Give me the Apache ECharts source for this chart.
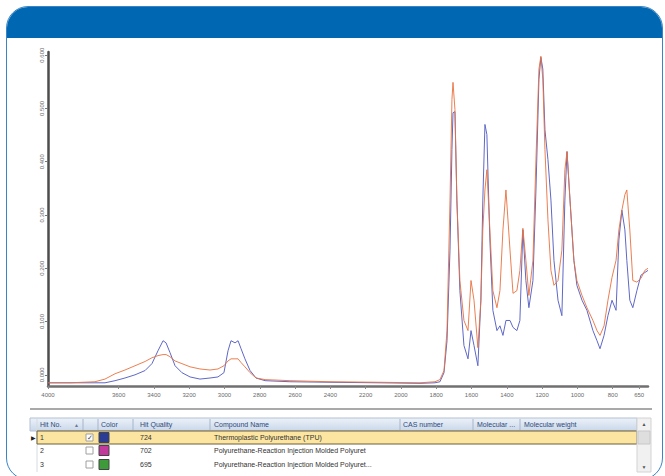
<!DOCTYPE html>
<html><head><meta charset="utf-8">
<script src="https://cdn.jsdelivr.net/npm/echarts@6/dist/echarts.min.js"></script>
<style>
html,body{margin:0;padding:0;background:#fff;width:665px;height:476px;overflow:hidden;}
#frame{position:absolute;left:6px;top:6px;width:657px;height:474px;border:1px solid #3a83c6;border-radius:22px;overflow:hidden;box-sizing:border-box;background:#fff}
#bar{position:absolute;left:0;top:0;right:0;height:31px;background:#0068b2}
#chart{position:absolute;left:0;top:0;width:665px;height:476px}
</style></head><body>
<div id="frame"><div id="bar"></div></div>
<div id="chart"></div>
<script>
// ---- data ----
const wavenumbers = [4000,3875,3734,3677,3620,3564,3507,3450,3411,3377,
  3348,3331,3309,3280,3241,3195,3139,3082,3037,3003,
  2980,2963,2940,2923,2906,2884,2855,2821,2770,2629,
  2402,2119,1892,1807,1779,1756,1739,1722,1711,1705,
  1694,1683,1666,1643,1620,1603,1586,1564,1547,1536,
  1524,1513,1496,1479,1456,1439,1422,1405,1382,1365,
  1343,1326,1309,1292,1275,1252,1235,1218,1207,1196,
  1184,1167,1150,1133,1110,1088,1071,1059,1042,1020,
  1003,974,946,912,889,872,849,827,804,781,
  765,748,731,720,703,686,663,640,618,600];
const sampleSpectrum = [-0.015,-0.015,-0.013,-0.008,0.002,0.009,0.017,0.025,0.032,0.036,
  0.038,0.038,0.034,0.026,0.021,0.015,0.011,0.009,0.011,0.017,
  0.026,0.030,0.030,0.030,0.023,0.015,0.004,-0.006,-0.009,-0.011,
  -0.013,-0.014,-0.015,-0.013,-0.009,0.008,0.083,0.328,0.517,0.549,
  0.498,0.328,0.177,0.102,0.083,0.177,0.140,0.051,0.140,0.272,
  0.347,0.385,0.272,0.158,0.126,0.158,0.272,0.347,0.234,0.153,
  0.158,0.196,0.275,0.215,0.149,0.215,0.404,0.574,0.598,0.555,
  0.423,0.291,0.196,0.168,0.177,0.234,0.385,0.419,0.328,0.215,
  0.177,0.149,0.126,0.102,0.083,0.074,0.092,0.140,0.183,0.215,
  0.272,0.309,0.338,0.347,0.272,0.177,0.174,0.181,0.196,0.200];
const hitSpectrum = [-0.015,-0.015,-0.015,-0.015,-0.011,-0.006,0,0.008,0.021,0.045,
  0.064,0.060,0.042,0.017,0.004,-0.004,-0.008,-0.006,-0.004,0.004,
  0.045,0.064,0.060,0.064,0.049,0.030,0.008,-0.006,-0.011,-0.013,
  -0.014,-0.015,-0.016,-0.015,-0.013,0.004,0.064,0.234,0.423,0.492,
  0.494,0.328,0.158,0.055,0.030,0.083,0.055,0.017,0.140,0.328,
  0.470,0.451,0.253,0.121,0.083,0.092,0.074,0.102,0.102,0.089,
  0.083,0.102,0.272,0.177,0.126,0.177,0.347,0.555,0.596,0.574,
  0.460,0.404,0.328,0.215,0.140,0.111,0.328,0.419,0.328,0.215,
  0.168,0.140,0.121,0.083,0.064,0.049,0.074,0.111,0.140,0.121,
  0.253,0.309,0.272,0.215,0.140,0.126,0.158,0.187,0.192,0.196];
const xTickLabels = [4000,3600,3400,3200,3000,2800,2600,2400,2200,2000,1800,1600,1400,1200,1000,800,650];
const yTickLabels = [0,0.1,0.2,0.3,0.4,0.5,0.6];

const tableHeaders = ['Hit No.','Color','Hit Quality','Compound Name','CAS number','Molecular ...','Molecular weight'];
const hitNumbers = ['1','2','3'];
const hitChecked = [true,false,false];
const hitColors = ['#2b3c94','#c23a9b','#3d9b3a'];
const hitQualities = ['724','702','695'];
const compoundNames = ['Thermoplastic Polyurethane (TPU)',
  'Polyurethane-Reaction Injection Molded Polyuret',
  'Polyurethane-Reaction Injection Molded Polyuret...'];

// ---- table graphics ----
const FONT = 'Liberation Sans';
const headerX = [40,101,140,214,403,477,524];
const sepX = [83,98,133,210,400,473,520];
const rowTop = [431,444,458];
const g = [];
g.push({type:'line', shape:{x1:30,y1:409,x2:652,y2:409}, style:{stroke:'#a9a9a9', lineWidth:2}});
g.push({type:'rect', shape:{x:30,y:418,width:607,height:13},
  style:{fill:new echarts.graphic.LinearGradient(0,0,0,1,[{offset:0,color:'#edf2f9'},{offset:1,color:'#c9d7ea'}]), stroke:'#b3c1d4', lineWidth:1}});
sepX.forEach(x=>g.push({type:'line', shape:{x1:x,y1:419,x2:x,y2:430}, style:{stroke:'#a6b5ca', lineWidth:1}}));
g.push({type:'line', shape:{x1:37,y1:419,x2:37,y2:472}, style:{stroke:'#d6dbe2', lineWidth:1}});
tableHeaders.forEach((t,i)=>g.push({type:'text', x:headerX[i], y:424.5,
  style:{text:t, fontSize:7, fontFamily:FONT, fill:'#2f4a7a', verticalAlign:'middle'}}));
g.push({type:'text', x:74, y:424.5, style:{text:'▲', fontSize:5, fill:'#6a7890', verticalAlign:'middle'}});
g.push({type:'rect', shape:{x:37,y:431,width:600,height:13}, style:{fill:'#fce5a0', stroke:'#6c5f3c', lineWidth:1}});
g.push({type:'text', x:31, y:437.5, style:{text:'▶', fontSize:6, fill:'#222', verticalAlign:'middle'}});
hitNumbers.forEach((n,i)=>{
  const cy = rowTop[i] + 6.5;
  g.push({type:'text', x:40, y:cy, style:{text:n, fontSize:7, fontFamily:FONT, fill:'#333', verticalAlign:'middle'}});
  g.push({type:'rect', shape:{x:86,y:cy-3.5,width:7,height:7}, style:{fill:'#fff', stroke:'#a0a0a0', lineWidth:1}});
  if (hitChecked[i]) g.push({type:'text', x:86.5, y:cy, style:{text:'✓', fontSize:7, fill:'#444', verticalAlign:'middle'}});
  g.push({type:'rect', shape:{x:99,y:cy-5,width:10,height:10}, style:{fill:hitColors[i], stroke:'#444', lineWidth:1}});
  g.push({type:'text', x:140, y:cy, style:{text:hitQualities[i], fontSize:7, fontFamily:FONT, fill:'#333', verticalAlign:'middle'}});
  g.push({type:'text', x:214, y:cy, style:{text:compoundNames[i], fontSize:7, fontFamily:FONT, fill:'#333', verticalAlign:'middle'}});
});
g.push({type:'rect', shape:{x:637,y:418,width:14,height:54}, style:{fill:'#f1f1f1', stroke:'#d3d3d3', lineWidth:1}});
g.push({type:'rect', shape:{x:638,y:431,width:12,height:13}, style:{fill:'#dedede', stroke:'#c8c8c8', lineWidth:1}});
g.push({type:'text', x:641.5, y:424, style:{text:'▲', fontSize:5, fill:'#555', verticalAlign:'middle'}});
g.push({type:'text', x:641.5, y:467, style:{text:'▼', fontSize:5, fill:'#555', verticalAlign:'middle'}});

// ---- chart ----
const chart = echarts.init(document.getElementById('chart'), null, {renderer:'svg'});
chart.setOption({
  animation:false,
  backgroundColor:'transparent',
  grid:{left:48, top:52, width:600, height:334, containLabel:false},
  xAxis:{type:'value', min:600, max:4000, inverse:true,
    axisLine:{onZero:false, lineStyle:{color:'#707070', width:2.5}},
    axisTick:{show:true, customValues:xTickLabels, length:3, lineStyle:{color:'#888'}},
    axisLabel:{customValues:xTickLabels, fontSize:6, color:'#6a6a6a', margin:6, fontFamily:FONT,
      formatter:v=>String(v)},
    splitLine:{show:false}},
  yAxis:{type:'value', min:-0.021, max:0.606,
    axisLine:{show:true, onZero:false, lineStyle:{color:'#4d4d4d', width:2.5}},
    axisTick:{show:true, customValues:yTickLabels, length:3, lineStyle:{color:'#777'}},
    axisLabel:{customValues:yTickLabels, rotate:90, fontSize:6, color:'#6a6a6a', margin:3, fontFamily:FONT,
      formatter:v=>v.toFixed(3)},
    splitLine:{show:false}},
  series:[
    {name:'Hit 1', type:'line', showSymbol:false, z:2,
      data:wavenumbers.map((w,i)=>[w, hitSpectrum[i]]),
      lineStyle:{color:'#5f68c6', width:1}, itemStyle:{color:'#5f68c6'}},
    {name:'Sample', type:'line', showSymbol:false, z:3,
      data:wavenumbers.map((w,i)=>[w, sampleSpectrum[i]]),
      lineStyle:{color:'#e8713f', width:1, opacity:0.9}, itemStyle:{color:'#e8713f'}}
  ],
  graphic:g
});
</script></body></html>
